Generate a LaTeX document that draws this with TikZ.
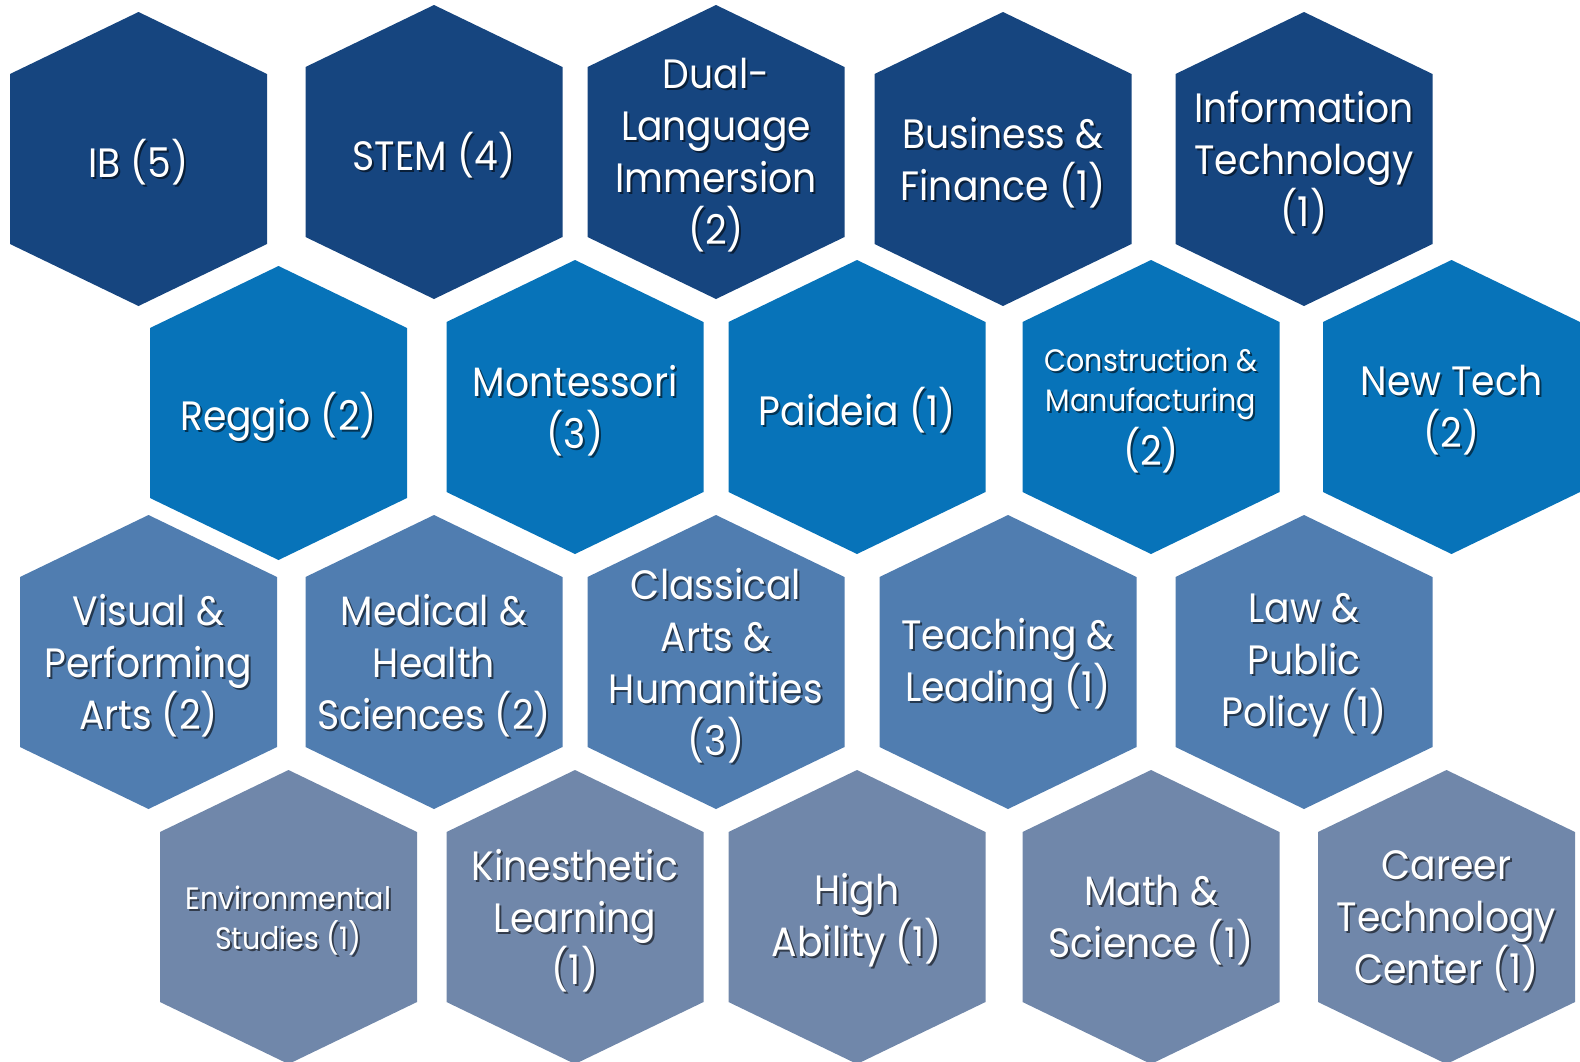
\documentclass[tikz,border=0pt]{standalone}
\usepackage{fontspec}
\setmainfont{Poppins}[FakeStretch=0.92]
\usepackage{xcolor}
\usepackage{tikz}
\definecolor{rowone}{HTML}{16457F}
\definecolor{rowtwo}{HTML}{0773B9}
\definecolor{rowthree}{HTML}{507DB0}
\definecolor{rowfour}{HTML}{7087AA}
\newcommand{\bigfs}{\fontsize{41bp}{52bp}\selectfont}
\newcommand{\smallfs}{\fontsize{31bp}{40bp}\selectfont}
\tikzset{hexcell/.pic={\path[pic actions] (0,-147) -- (128.5,-85) -- (128.5,85)
        -- (0,147) -- (-128.5,85) -- (-128.5,-85) -- cycle;},
    celltext/.style={text=white, align=center, inner sep=0pt, font=\bigfs, yshift=-3.5bp},
    shadowtext/.style={celltext, text=black, text opacity=0.55},
    small/.style={font=\smallfs},
    x=1bp, y=-1bp}
\newcommand{\cell}[6][]{%
    \pic[fill=#5] at (#3,#4) {hexcell};
    \node[shadowtext,#1] at (#3+2,#4+2) {#6};
    \node[celltext,#1] (#2) at (#3,#4) {#6};}

\begin{document}
\begin{tikzpicture}
    \useasboundingbox (0,0) rectangle (1580,1061);
    \clip (0,0) rectangle (1580,1061);
    % first row
    \cell{ib}{138.5}{159}{rowone}{IB (5)}
    \cell{stem}{434}{152}{rowone}{STEM (4)}
    \cell{dual}{716}{152}{rowone}{Dual-\\Language\\Immersion\\(2)}
    \cell{business}{1003}{159}{rowone}{Business \&\\Finance (1)}
    \cell{infotech}{1304}{159}{rowone}{Information\\Technology\\(1)}
    % second row
    \cell{reggio}{278.5}{413}{rowtwo}{Reggio (2)}
    \cell{montessori}{575}{407}{rowtwo}{Montessori\\(3)}
    \cell{paideia}{857}{407}{rowtwo}{Paideia (1)}
    \cell[small]{construction}{1151}{407}{rowtwo}{Construction \&\\Manufacturing\\[6bp]\bigfs (2)}
    \cell{newtech}{1451.5}{407}{rowtwo}{New Tech\\(2)}
    % third row
    \cell{visual}{148.5}{662}{rowthree}{Visual \&\\Performing\\Arts (2)}
    \cell{medical}{434}{662}{rowthree}{Medical \&\\Health\\Sciences (2)}
    \cell{classical}{716}{662}{rowthree}{Classical\\Arts \&\\Humanities\\(3)}
    \cell{teaching}{1008}{662}{rowthree}{Teaching \&\\Leading (1)}
    \cell{law}{1304}{662}{rowthree}{Law \&\\Public\\Policy (1)}
    % fourth row
    \cell[small]{environmental}{288.5}{917}{rowfour}{Environmental\\Studies (1)}
    \cell{kinesthetic}{575}{917}{rowfour}{Kinesthetic\\Learning\\(1)}
    \cell{highability}{857}{917}{rowfour}{High\\Ability (1)}
    \cell{math}{1151}{917}{rowfour}{Math \&\\Science (1)}
    \cell{career}{1446.5}{917}{rowfour}{Career\\Technology\\Center (1)}
\end{tikzpicture}
\end{document}
